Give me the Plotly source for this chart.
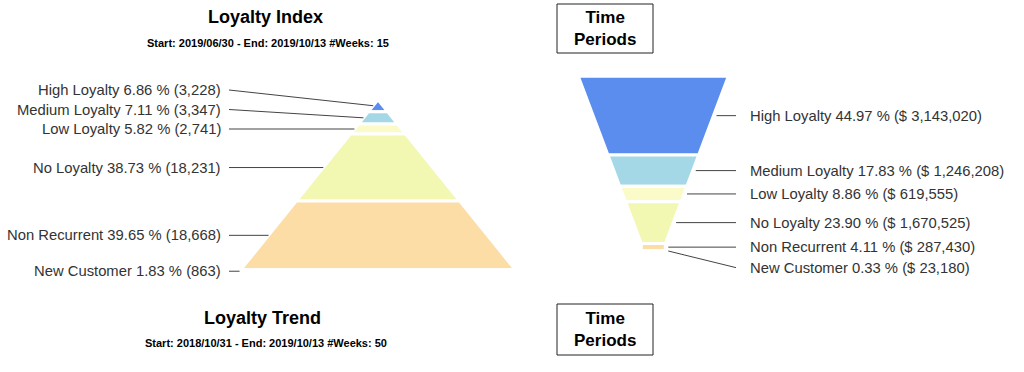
import plotly.graph_objects as go

# ---------------- data ----------------
categories = ["High Loyalty", "Medium Loyalty", "Low Loyalty", "No Loyalty",
              "Non Recurrent", "New Customer"]
index_pct = [6.86, 7.11, 5.82, 38.73, 39.65, 1.83]
index_count = [3228, 3347, 2741, 18231, 18668, 863]
period_pct = [44.97, 17.83, 8.86, 23.90, 4.11, 0.33]
period_value = [3143020, 1246208, 619555, 1670525, 287430, 23180]

index_title = "Loyalty Index"
index_subtitle = "Start: 2019/06/30 - End: 2019/10/13 #Weeks: 15"
trend_title = "Loyalty Trend"
trend_subtitle = "Start: 2018/10/31 - End: 2019/10/13 #Weeks: 50"
box_text = "Time<br>Periods"

# ---------------- style ----------------
COLORS = ["#5B8DEF", "#A5D8E7", "#FBFBCA", "#F2F7B1", "#FDDDA6", "#F8C88C"]
FONT = "Liberation Sans, Arial, sans-serif"
LABEL_COLOR = "#333333"
LINE_COLOR = "#444444"
W, H = 1024, 372

# geometry (layout, in pixel units of the axes)
PYR = dict(cx=378.0, top=99.8, height=173.0, slope=1.615)          # width per px
FUN = dict(cx=653.3, top=76.3, height=175.0, top_w=150.0, neck_w=24.0, neck_frac=0.045)


def pyr_width(t):
    return PYR["slope"] * PYR["height"] * t


def fun_width(t):
    knee = 1 - FUN["neck_frac"]
    if t <= knee:
        return FUN["top_w"] - (FUN["top_w"] - FUN["neck_w"]) * t / knee
    return FUN["neck_w"]


def segment_polygon(t0, t1, cx, top, height, wfun, breaks=()):
    ts = [t0] + [b for b in breaks if t0 < b < t1] + [t1]
    xr = [cx + wfun(t) / 2 for t in ts]
    xl = [cx - wfun(t) / 2 for t in ts]
    ys = [top + t * height for t in ts]
    xs = xr + xl[::-1] + [xr[0]]
    yy = ys + ys[::-1] + [ys[0]]
    return xs, yy


fig = go.Figure()


def add_chart(pcts, geo, wfun, breaks, side, fmt_labels, spacing):
    total = sum(pcts)
    cum = 0.0
    centers, edge_x = [], []
    for i, p in enumerate(pcts):
        t0, t1 = cum / total, (cum + p) / total
        cum += p
        xs, ys = segment_polygon(t0, t1, geo["cx"], geo["top"], geo["height"], wfun, breaks)
        fig.add_trace(go.Scatter(x=xs, y=ys, mode="lines", fill="toself",
                                 fillcolor=COLORS[i], line=dict(color="white", width=3),
                                 hoverinfo="skip", showlegend=False))
        tc = (t0 + t1) / 2
        yc = geo["top"] + tc * geo["height"]
        centers.append(yc)
        half = wfun(tc) / 2
        edge_x.append(geo["cx"] - half if side == "left" else geo["cx"] + half + 3)

    n = len(pcts)
    ylab = list(centers)
    if side == "left":
        for i in range(n - 2, -1, -1):
            ylab[i] = min(centers[i], ylab[i + 1] - spacing)
        lx, tx, anchor = 229, 223, "right"
    else:
        for i in range(1, n):
            ylab[i] = max(centers[i], ylab[i - 1] + spacing)
        lx, tx, anchor = 736, 748, "left"

    for i in range(n):
        fig.add_trace(go.Scatter(x=[lx, edge_x[i]], y=[ylab[i], centers[i]], mode="lines",
                                 line=dict(color=LINE_COLOR, width=1),
                                 hoverinfo="skip", showlegend=False))
        fig.add_annotation(x=tx, y=ylab[i], xref="x", yref="y", text=fmt_labels[i],
                           showarrow=False, xanchor=anchor, yanchor="middle",
                           font=dict(family=FONT, size=14.8, color=LABEL_COLOR))


left_labels = [f"{c} {p:.2f} % ({v:,})" for c, p, v in zip(categories, index_pct, index_count)]
right_labels = [f"{c} {p:.2f} % ($ {v:,})" for c, p, v in zip(categories, period_pct, period_value)]

add_chart(index_pct, PYR, pyr_width, (), "left", left_labels, 19.5)
add_chart(period_pct, FUN, fun_width, (1 - FUN["neck_frac"],), "right", right_labels, 20.5)

# titles
def text(x, y, s, size, bold=True, color="#000000"):
    fig.add_annotation(x=x, y=y, xref="x", yref="y", text=f"<b>{s}</b>" if bold else s,
                       showarrow=False, xanchor="center", yanchor="middle",
                       font=dict(family=FONT, size=size, color=color))

text(265, 17, index_title, 18)
text(268, 43, index_subtitle, 11)
text(262, 318, trend_title, 18)
text(266, 343, trend_subtitle, 11)

for (y0, y1) in [(4, 53), (304, 355)]:
    fig.add_shape(type="rect", xref="x", yref="y", x0=557, x1=653, y0=y0, y1=y1,
                  line=dict(color="#222222", width=1), fillcolor="rgba(0,0,0,0)")
    text(605, (y0 + y1) / 2, box_text, 17)

fig.update_layout(
    width=W, height=H, margin=dict(l=0, r=0, t=0, b=0),
    paper_bgcolor="white", plot_bgcolor="white",
    xaxis=dict(range=[0, W], visible=False, fixedrange=True),
    yaxis=dict(range=[H, 0], visible=False, fixedrange=True),
    showlegend=False,
)

fig.write_html("out.html")
